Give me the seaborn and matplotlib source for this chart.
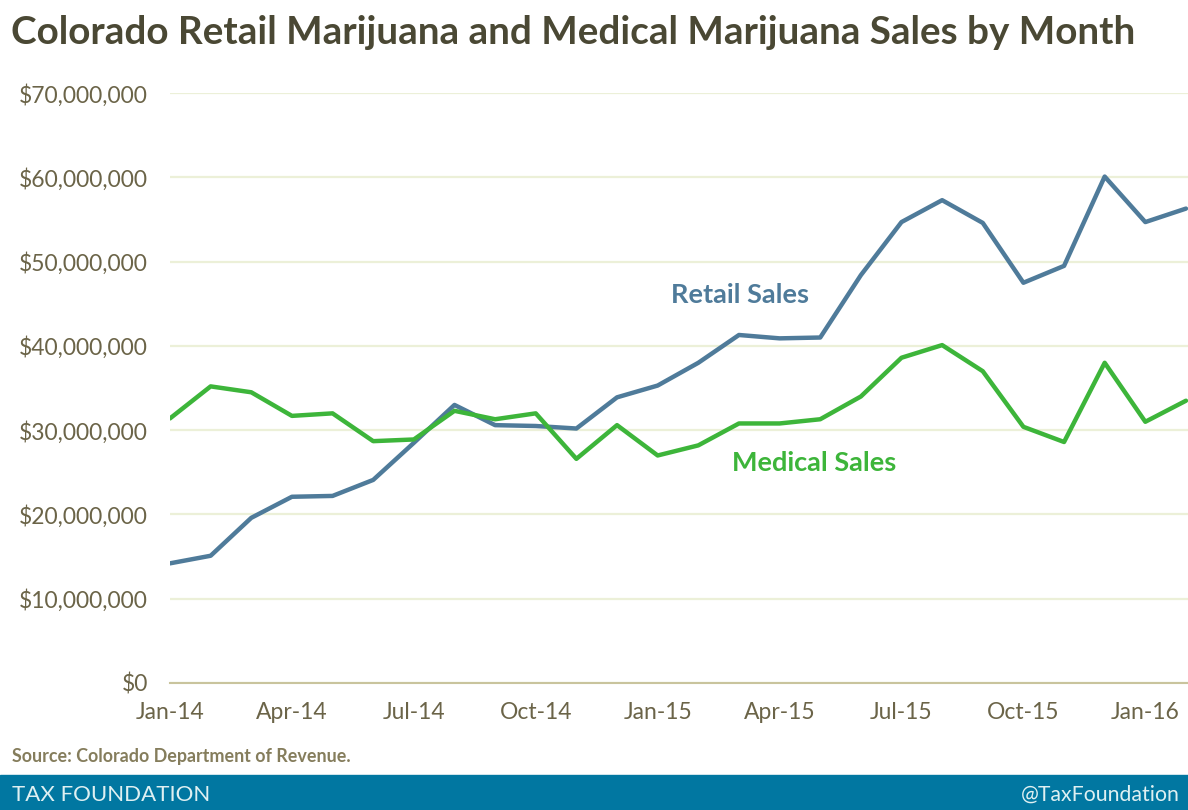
import pandas as pd
import seaborn as sns
import matplotlib.pyplot as plt
from matplotlib.ticker import FuncFormatter

# monthly sales, Jan-14 .. Feb-16
months = ["Jan-14", "Feb-14", "Mar-14", "Apr-14", "May-14", "Jun-14", "Jul-14", "Aug-14",
          "Sep-14", "Oct-14", "Nov-14", "Dec-14", "Jan-15", "Feb-15", "Mar-15", "Apr-15",
          "May-15", "Jun-15", "Jul-15", "Aug-15", "Sep-15", "Oct-15", "Nov-15", "Dec-15",
          "Jan-16", "Feb-16"]
retail = [14.2, 15.1, 19.6, 22.1, 22.2, 24.1, 28.5, 33.0, 30.6, 30.5, 30.2, 33.9, 35.3,
          38.0, 41.3, 40.9, 41.0, 48.4, 54.7, 57.3, 54.6, 47.5, 49.5, 60.1, 54.7, 56.3]
medical = [31.4, 35.2, 34.5, 31.7, 32.0, 28.7, 28.9, 32.3, 31.3, 32.0, 26.6, 30.6, 27.0,
           28.2, 30.8, 30.8, 31.3, 34.0, 38.6, 40.1, 37.0, 30.4, 28.6, 38.0, 31.0, 33.5]
tick_labels = months[::3]

sns.set_style("white")
plt.rcParams['font.family'] = ['Lato', 'DejaVu Sans']

df = pd.DataFrame({"idx": range(len(months)),
                   "Retail": [v * 1e6 for v in retail],
                   "Medical": [v * 1e6 for v in medical]})

fig = plt.figure(figsize=(11.88, 8.1), dpi=100)
ax = fig.add_axes([0.1431, 0.1568, 0.8569, 0.7282])

sns.lineplot(data=df, x="idx", y="Retail", color="#4f7b9a", lw=3.2, ax=ax)
sns.lineplot(data=df, x="idx", y="Medical", color="#3db53a", lw=3.2, ax=ax)

olive = "#6b6448"
ax.set_ylim(0, 70e6)
ax.set_xlim(0, len(months) - 0.95)
ax.set_yticks([i * 10e6 for i in range(8)])
ax.yaxis.set_major_formatter(FuncFormatter(lambda v, p: "${:,.0f}".format(v)))
ax.set_xticks(range(0, len(months), 3))
ax.set_xticklabels(tick_labels)
ax.grid(axis="y", color="#ecf0d8", lw=1.6)
ax.set_axisbelow(True)
for s in ["top", "right", "left"]:
    ax.spines[s].set_visible(False)
ax.spines["bottom"].set_color("#c9c49d")
ax.spines["bottom"].set_linewidth(1.5)
ax.tick_params(axis="x", direction="inout", length=7, width=1.2, color="#c9c49d",
               labelsize=16.5, labelcolor=olive, pad=10)
ax.tick_params(axis="y", length=0, labelsize=16.5, labelcolor=olive, pad=16)
ax.set_xlabel("")
ax.set_ylabel("")

ax.text(12.33, 46e6, "Retail Sales", color="#4f7b9a", fontsize=19.5, fontweight="bold",
        va="center", ha="left")
ax.text(13.83, 26.1e6, "Medical Sales", color="#3db53a", fontsize=19.5, fontweight="bold",
        va="center", ha="left")

fig.text(0.009, 0.960, "Colorado Retail Marijuana and Medical Marijuana Sales by Month",
         fontsize=27.8, fontweight="bold", color="#4a4834", va="center", ha="left")
fig.text(0.010, 0.066, "Source: Colorado Department of Revenue.", fontsize=12.9,
         fontweight="bold", color="#857d5c", va="center", ha="left")

fig.patches.append(plt.Rectangle((0, 0), 1, 0.043, transform=fig.transFigure,
                                 color="#0177a1", zorder=0))
fig.text(0.010, 0.019, "TAX FOUNDATION", fontsize=16, color="#dff0f2", va="center", ha="left")
fig.text(0.993, 0.019, "@TaxFoundation", fontsize=15.3, color="#dff0f2", va="center", ha="right")

fig.savefig("out.png", dpi=100)
